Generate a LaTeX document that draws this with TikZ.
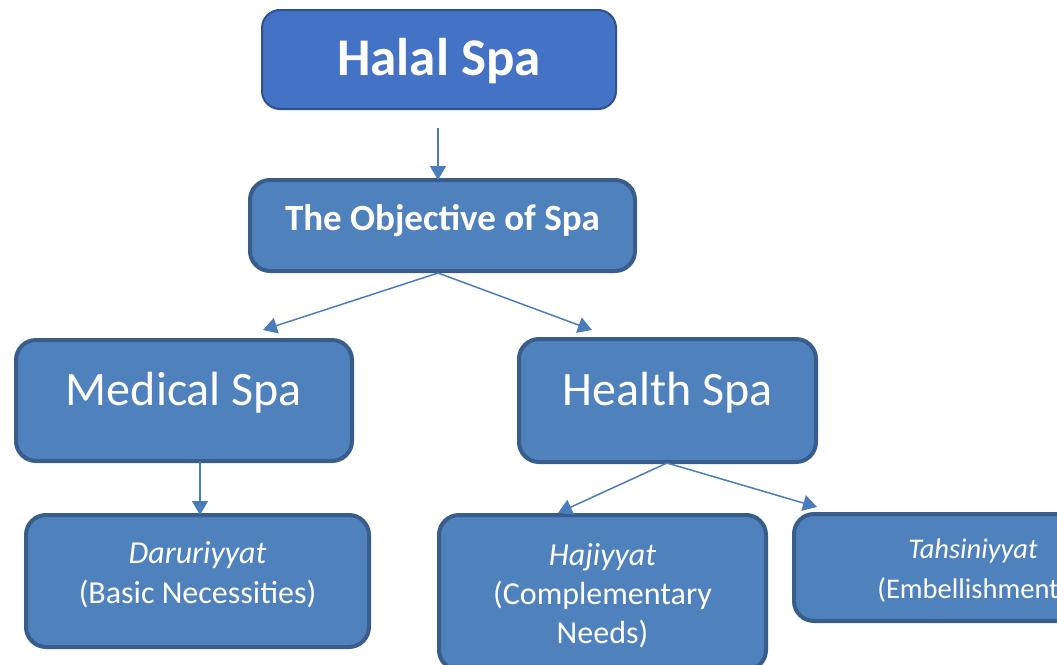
\documentclass[tikz,border=0pt]{standalone}
\usepackage{fontspec}
\setmainfont{Carlito}
\usetikzlibrary{arrows.meta,calc}
\definecolor{topfill}{HTML}{4472C4}
\definecolor{topline}{HTML}{2F528F}
\definecolor{boxfill}{HTML}{4F81BD}
\definecolor{boxline}{HTML}{385D8A}
\definecolor{arrowcol}{HTML}{4A7EBB}
\begin{document}
\begin{tikzpicture}[x=1pt,y=-1pt,
  box/.style={draw=boxline,fill=boxfill,line width=4pt,rounded corners=20pt,inner sep=0pt,outer sep=0pt,text=white,align=center},
  topbox/.style={box,draw=topline,fill=topfill,line width=2pt,rounded corners=18pt},
  conn/.style={draw=arrowcol,line width=1.5pt,-{Triangle[width=16pt,length=14pt]}}]
\useasboundingbox (0,0) rectangle (1057,664);
\node[topbox,minimum width=354pt,minimum height=99pt] (halal) at (439,59.5)
  {\raisebox{-15.5pt}[0pt][0pt]{\fontsize{53}{64}\selectfont\bfseries Halal Spa}};
\node[box,minimum width=385pt,minimum height=91pt] (objective) at (442.5,225.5)
  {\raisebox{-4.5pt}[0pt][0pt]{\fontsize{37}{45}\selectfont\bfseries The Objective of Spa}};
\node[box,minimum width=336pt,minimum height=121pt] (medical) at (184,400.5)
  {\raisebox{-4.5pt}[0pt][0pt]{\fontsize{48}{58}\selectfont Medical Spa}};
\node[box,minimum width=297pt,minimum height=123pt] (health) at (667.5,400.5)
  {\raisebox{-4.5pt}[0pt][0pt]{\fontsize{48}{58}\selectfont Health Spa}};
\node[box,minimum width=343pt,minimum height=132pt] (daru) at (197.5,581)
  {\raisebox{-22pt}[0pt][0pt]{\fontsize{32}{40}\selectfont\begin{tabular}[b]{@{}c@{}}\itshape Daruriyyat\\(Basic Necessities)\end{tabular}}};
\node[box,minimum width=327pt,minimum height=155pt] (haji) at (602.5,592.5)
  {\raisebox{-50.5pt}[0pt][0pt]{\fontsize{32}{39}\selectfont\begin{tabular}[b]{@{}c@{}}\itshape Hajiyyat\\(Complementary\\Needs)\end{tabular}}};
\node[box,minimum width=358pt,minimum height=107pt] (tahs) at (973,567.5)
  {\raisebox{-31pt}[0pt][0pt]{\fontsize{28.5}{40}\selectfont\begin{tabular}[b]{@{}c@{}}\itshape Tahsiniyyat\\\hspace*{10pt}(Embellishments)\end{tabular}}};
% connector ends
\coordinate (hstart) at ($(halal.south)+(-1,19)$);
\coordinate (oend) at ($(objective.north)+(-4.5,0)$);
\coordinate (ostart) at ($(objective.south)+(-4.5,2)$);
\coordinate (medtip) at (263,330);
\coordinate (heatip) at (592,330);
\coordinate (mstart) at ($(medical.south)+(16,0)$);
\coordinate (dtip) at ($(daru.north)+(2.5,0)$);
\coordinate (hsstart) at ($(health.south)+(-0.5,1)$);
\coordinate (hjtip) at (558,513);
\coordinate (tstip) at (817,507);
\draw[conn] (hstart) -- (oend);
\draw[conn] (ostart) -- (medtip);
\draw[conn] (ostart) -- (heatip);
\draw[conn] (mstart) -- (dtip);
\draw[conn] (hsstart) -- (hjtip);
\draw[conn] (hsstart) -- (tstip);
\end{tikzpicture}
\end{document}
